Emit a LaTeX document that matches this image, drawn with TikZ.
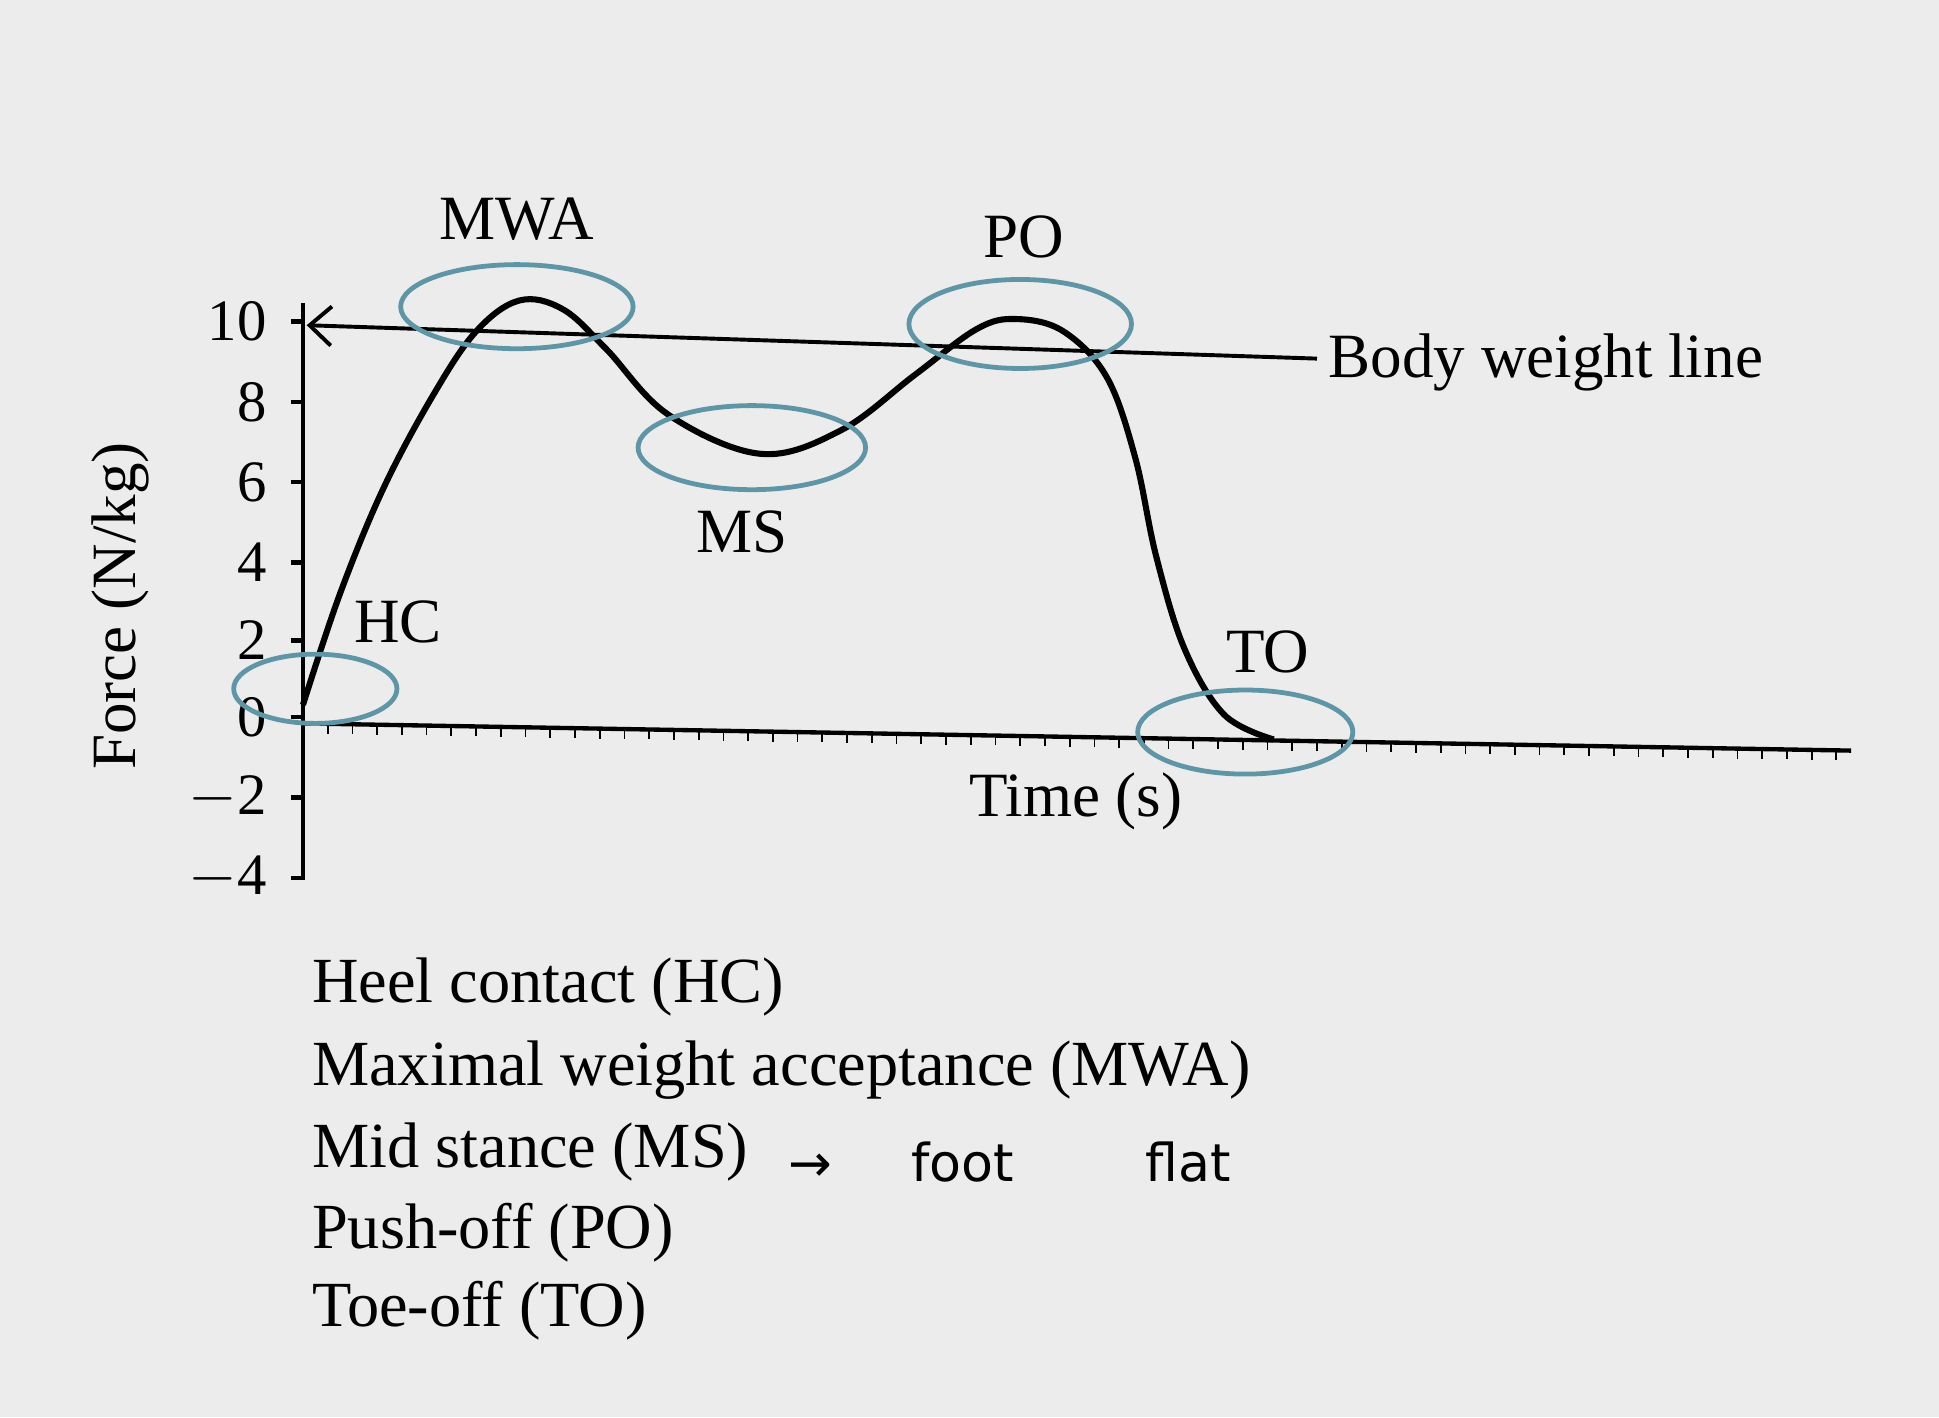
\documentclass[tikz,border=0pt]{standalone}
\usepackage{fontspec}
\setmainfont{Liberation Serif}
\newfontfamily\hand{DejaVu Sans}
\usetikzlibrary{arrows.meta}
\definecolor{ringc}{RGB}{95,150,165}
\begin{document}
\begin{tikzpicture}[x=0.01cm,y=-0.01cm,
  lab/.style={font=\fontsize{14.5}{17}\selectfont},
  tick/.style={font=\fontsize{13.5}{16}\selectfont, anchor=east},
  ring/.style={draw=ringc, line width=1.1pt},
  leg/.style={font=\fontsize{14.8}{17}\selectfont, anchor=west}]
\fill[gray!15] (0,0) rectangle (1568,1146);
\useasboundingbox (0,0) rectangle (1568,1146);
% axes
\coordinate (yt) at (245,245); \coordinate (yb) at (245,712);
\coordinate (xl) at (245,585); \coordinate (xr) at (1497,607);
\draw[line width=1pt] (yt) -- (yb);
\draw[line width=1pt] (xl) -- (xr);
\foreach \i in {0,...,62} {\draw (245+\i*20, 585+\i*0.3514) -- ++(0,8);}
\foreach \v/\y in {10/260,8/325,6/390,4/455,2/518,0/580,{$-$2}/645,{$-$4}/710}
  {\node[tick] at (228,\y) {\v}; \draw[line width=1pt] (235,\y) -- (245,\y);}
% body weight line
\coordinate (bw0) at (248,263); \coordinate (bw1) at (1065,290);
\draw[line width=0.9pt,{Straight Barb[length=5pt,width=9pt]}-] (bw0) -- (bw1);
\node[lab,anchor=west] (bwl) at (1062,293) {Body weight line};
% curve
\draw[line width=1.4pt] plot[smooth,tension=0.6] coordinates {(245,570) (275,480) (310,395) (350,320) (385,268) (420,243) (455,250) (490,282) (540,335) (615,367) (680,348) (740,303) (790,266) (822,258) (860,268) (895,305) (918,370) (935,450) (958,525) (990,578) (1030,598)};
% ellipses
\draw[ring] (255,557) ellipse (66 and 28);
\draw[ring] (418,248) ellipse (94 and 34);
\draw[ring] (608,362) ellipse (92 and 34);
\draw[ring] (825,262) ellipse (90 and 36);
\draw[ring] (1007,592) ellipse (87 and 34);
% labels
\node[lab] (mwa) at (418,177) {MWA};
\node[lab] (po) at (828,192) {PO};
\node[lab] (ms) at (600,430) {MS};
\node[lab] (hc) at (322,503) {HC};
\node[lab] (to) at (1025,527) {TO};
\node[lab] (time) at (870,648) {Time (s)};
\node[lab,rotate=90] (force) at (97,490) {Force (N/kg)};
% legend
\node[leg] (l1) at (240,798) {Heel contact (HC)};
\node[leg] (l2) at (240,865) {Maximal weight acceptance (MWA)};
\node[leg] (l3) at (240,932) {Mid stance (MS)};
\node[anchor=west,font=\hand\fontsize{12}{14}\selectfont] (ff) at (625,940) {→ \hspace{1.2em}foot \hspace{2.2em}flat};
\node[leg] (l4) at (240,997) {Push-off (PO)};
\node[leg] (l5) at (240,1060) {Toe-off (TO)};
\end{tikzpicture}
\end{document}
